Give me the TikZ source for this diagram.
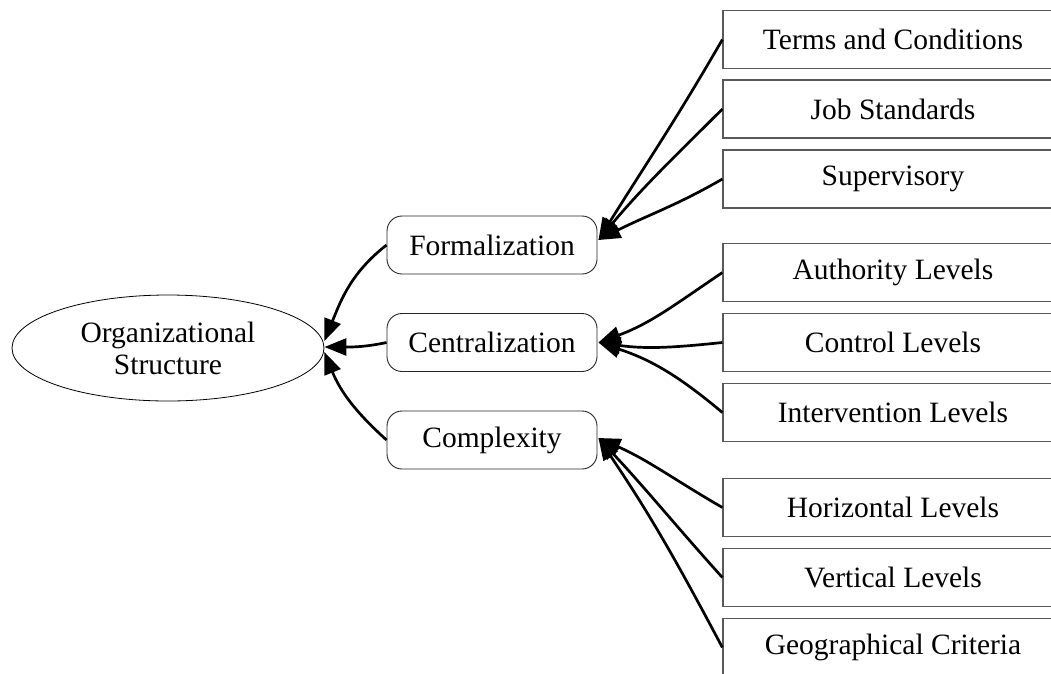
\documentclass[tikz,border=0pt]{standalone}
\usepackage{fontspec}
\setmainfont{Liberation Serif}
\usetikzlibrary{shapes.geometric,arrows.meta}

\begin{document}
\begin{tikzpicture}[x = 1pt, y = 1pt,
    every node/.style = {font = \fontsize{29.5pt}{32pt}\selectfont, inner sep = 0pt},
    root/.style = {draw, ellipse, line width = 0.8pt, minimum width = 312pt, minimum height = 106pt, align = center},
    facet/.style = {draw = black!85, rectangle, rounded corners = 15pt, line width = 0.9pt, minimum width = 210pt, minimum height = 58pt},
    item/.style = {draw = black!65, rectangle, line width = 1.2pt, minimum width = 340pt, minimum height = 58pt},
    edge/.style = {line width = 2.7pt, -{Triangle[length = 22pt, width = 17pt]}}]
      \clip (0, 0) rectangle (1051, -673);
      % root and the three dimensions
      \node[root] (org) at (168, -348) {Organizational\\Structure};
      \node[facet] (form) at (492, -245) {Formalization};
      \node[facet] (cent) at (492, -342.5) {Centralization};
      \node[facet] (comp) at (492, -440) {Complexity};
      % items on the right
      \node[item] (terms) at (893, -39.5) {Terms and Conditions};
      \node[item] (job) at (893, -109) {Job Standards};
      \node[item] (super) at (893, -179) {Supervisory};
      \node[item] (auth) at (893, -272.5) {Authority Levels};
      \node[item] (ctrl) at (893, -342.5) {Control Levels};
      \node[item] (inter) at (893, -412.5) {Intervention Levels};
      \node[item] (horiz) at (893, -507.5) {Horizontal Levels};
      \node[item] (vert) at (893, -577.5) {Vertical Levels};
      \node[item] (geo) at (893, -647.5) {Geographical Criteria};
      % edges into formalization
      \draw[edge] (terms.west) to[out = 240, in = 58] ([shift = {(1, 5)}]form.east);
      \draw[edge] (job.west) to[out = 225, in = 50] ([shift = {(1, 5)}]form.east);
      \draw[edge] (super.west) to[out = 210, in = 27] ([shift = {(1, 5)}]form.east);
      % edges into centralization
      \draw[edge] (auth.west) to[out = 214, in = 20] ([xshift = 1]cent.east);
      \draw[edge] (ctrl.west) to[out = 186, in = -8] ([xshift = 1]cent.east);
      \draw[edge] (inter.west) to[out = 140, in = -18] ([xshift = 1]cent.east);
      % edges into complexity
      \draw[edge] (horiz.west) to[out = 150, in = -24] ([shift = {(1, 2)}]comp.east);
      \draw[edge] (vert.west) to[out = 132, in = -47] ([shift = {(1, 2)}]comp.east);
      \draw[edge] (geo.west) to[out = 118, in = -56] ([shift = {(1, 2)}]comp.east);
      % edges into the root
      \draw[edge] (form.west) to[out = 218, in = 68] ([yshift = 7]org.east);
      \draw[edge] (cent.west) to[out = 192, in = 0] ([yshift = 1]org.east);
      \draw[edge] (comp.west) to[out = 138, in = -68] ([yshift = -4]org.east);
\end{tikzpicture}
\end{document}
